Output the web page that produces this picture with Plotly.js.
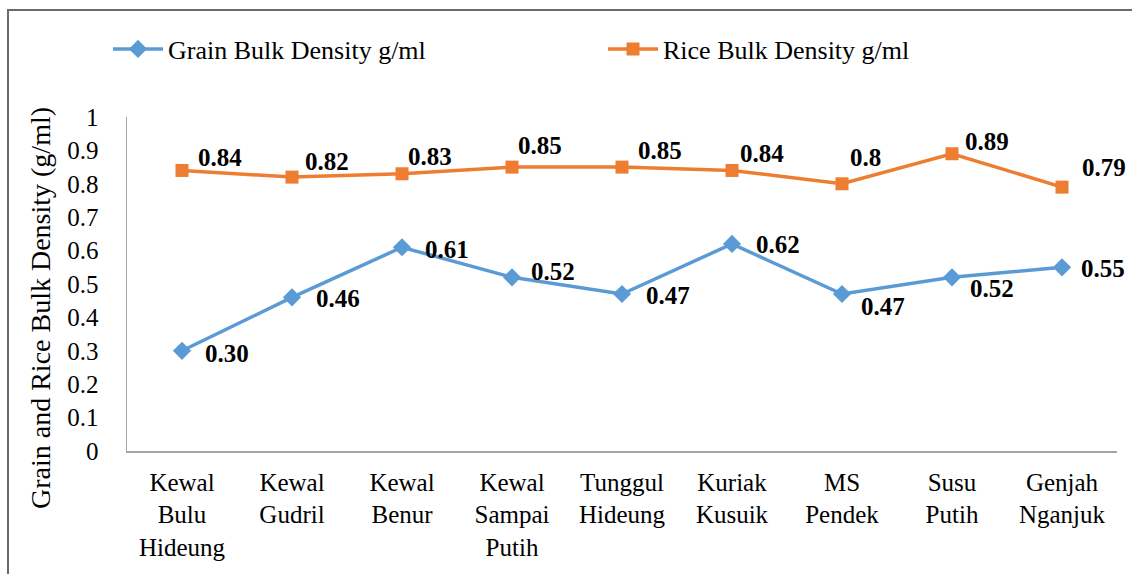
<!DOCTYPE html>
<html>
<head>
<meta charset="utf-8">
<script src="https://cdn.plot.ly/plotly-3.0.1.min.js"></script>
<style>
html,body{margin:0;padding:0;background:#fff;width:1132px;height:574px;overflow:hidden;}
#frame{position:absolute;left:7px;top:9px;width:1300px;height:800px;border-left:2px solid #6a6a6a;border-top:2px solid #6a6a6a;}
#chart{position:absolute;left:0;top:0;width:1132px;height:574px;}
</style>
</head>
<body>
<div id="frame"></div>
<div id="chart"></div>
<script>
// ---- data ----
var categories = ["Kewal<br>Bulu<br>Hideung", "Kewal<br>Gudril", "Kewal<br>Benur", "Kewal<br>Sampai<br>Putih", "Tunggul<br>Hideung", "Kuriak<br>Kusuik", "MS<br>Pendek", "Susu<br>Putih", "Genjah<br>Nganjuk"];
var grainBulkDensity = [0.30, 0.46, 0.61, 0.52, 0.47, 0.62, 0.47, 0.52, 0.55];
var riceBulkDensity  = [0.84, 0.82, 0.83, 0.85, 0.85, 0.84, 0.80, 0.89, 0.79];
var grainLabels = ["0.30", "0.46", "0.61", "0.52", "0.47", "0.62", "0.47", "0.52", "0.55"];
var riceLabels  = ["0.84", "0.82", "0.83", "0.85", "0.85", "0.84", "0.8", "0.89", "0.79"];
var yTickValues = [0, 0.1, 0.2, 0.3, 0.4, 0.5, 0.6, 0.7, 0.8, 0.9, 1];
var yTickLabels = ["0", "0.1", "0.2", "0.3", "0.4", "0.5", "0.6", "0.7", "0.8", "0.9", "1"];

// ---- label placement (style only, pixel offsets from each point) ----
var grainOffsetX = [45, 46, 45, 41, 46, 46, 41, 40, 41];
var grainOffsetY = [3, 1, 2, -6, 1, 1, 12, 11, 1];
var riceOffsetX  = [38, 35, 28, 28, 38, 30, 23, 35, 42];
var riceOffsetY  = [-13, -16, -17, -22, -17, -17, -26, -12, -20];

var FONT = 'Liberation Serif';
var BLUE = '#5B9BD5';
var ORANGE = '#ED7D31';

var traces = [
  {
    type: 'scatter', mode: 'lines+markers',
    name: 'Grain Bulk Density g/ml',
    x: categories, y: grainBulkDensity,
    line: {color: BLUE, width: 3.5},
    marker: {symbol: 'diamond', size: 14, color: BLUE}
  },
  {
    type: 'scatter', mode: 'lines+markers',
    name: 'Rice Bulk Density g/ml',
    x: categories, y: riceBulkDensity,
    line: {color: ORANGE, width: 3.5},
    marker: {symbol: 'square', size: 13, color: ORANGE}
  }
];

var annotations = [];
function addLabels(vals, labels, ox, oy) {
  for (var i = 0; i < vals.length; i++) {
    annotations.push({
      x: categories[i], y: vals[i], xref: 'x', yref: 'y',
      text: '<b>' + labels[i] + '</b>', showarrow: false,
      xanchor: 'center', yanchor: 'middle',
      xshift: ox[i], yshift: -oy[i],
      font: {family: FONT, size: 25, color: '#000'}
    });
  }
}
addLabels(grainBulkDensity, grainLabels, grainOffsetX, grainOffsetY);
addLabels(riceBulkDensity, riceLabels, riceOffsetX, riceOffsetY);

annotations.push({
  xref: 'paper', yref: 'paper', x: (40 - 127) / 990, y: (451 - 308) / 334,
  text: 'Grain and Rice Bulk Density (g/ml)', textangle: -90, showarrow: false,
  xanchor: 'center', yanchor: 'middle',
  font: {family: FONT, size: 28, color: '#000'}
});

var layout = {
  width: 1132, height: 574,
  margin: {l: 127, r: 15, t: 117, b: 123, pad: 0},
  paper_bgcolor: 'rgba(0,0,0,0)', plot_bgcolor: 'rgba(0,0,0,0)',
  font: {family: FONT, size: 25, color: '#000'},
  showlegend: true,
  legend: {
    orientation: 'h', x: (108 - 127) / 990, xanchor: 'left',
    y: (451 - 49) / 334, yanchor: 'middle',
    font: {family: FONT, size: 26, color: '#000'},
    entrywidth: 430, entrywidthmode: 'pixels',
    bgcolor: 'rgba(0,0,0,0)', itemwidth: 50
  },
  xaxis: {
    type: 'category', range: [-0.5, 8.5], fixedrange: true,
    showline: true, linecolor: '#a6a6a6', linewidth: 1.5,
    showgrid: false, zeroline: false, ticks: '',
    ticklabelstandoff: 8,
    tickfont: {family: FONT, size: 25, color: '#000'},
    automargin: false
  },
  yaxis: {
    range: [0, 1], fixedrange: true,
    tickmode: 'array', tickvals: yTickValues, ticktext: yTickLabels,
    showline: true, linecolor: '#a6a6a6', linewidth: 1.5,
    showgrid: false, zeroline: false, ticks: '',
    ticklabelstandoff: 22,
    tickfont: {family: FONT, size: 25, color: '#000'},
    automargin: false
  },
  annotations: annotations
};

Plotly.newPlot('chart', traces, layout, {displayModeBar: false, staticPlot: true});
</script>
</body>
</html>
